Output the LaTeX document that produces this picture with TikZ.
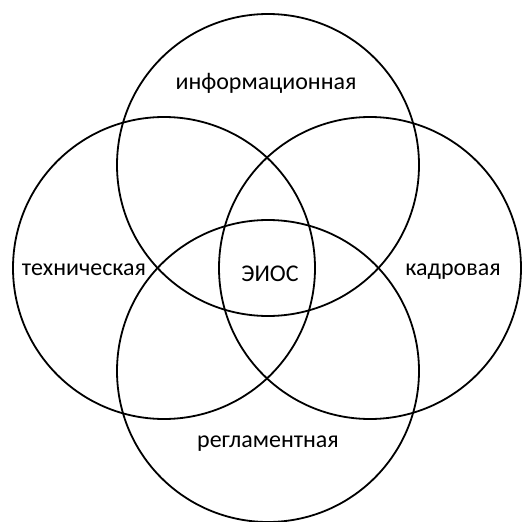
\documentclass[tikz,border=0pt]{standalone}
\usepackage{fontspec}
\setmainfont{Carlito}
\begin{document}
\begin{tikzpicture}[x=1pt,y=-1pt,
  ring/.style={draw=black,line width=1.8pt},
  lbl/.style={font=\fontsize{24}{28}\selectfont,inner sep=0pt}]
\useasboundingbox (0,0) rectangle (523,522);
\node[circle,minimum size=302pt,ring] (top) at (268,165) {};
\node[circle,minimum size=302pt,ring] (left) at (164,268) {};
\node[circle,minimum size=302pt,ring] (right) at (370,268) {};
\node[circle,minimum size=302pt,ring] (bottom) at (268,371) {};
\node[lbl] (t1) at (266,83) {информационная};
\node[lbl] (t2) at (84,270) {техническая};
\node[lbl] (t3) at (453,272) {кадровая};
\node[lbl] (t4) at (268,444) {регламентная};
\node[lbl] (t5) at (270,274) {ЭИОС};
\end{tikzpicture}
\end{document}
